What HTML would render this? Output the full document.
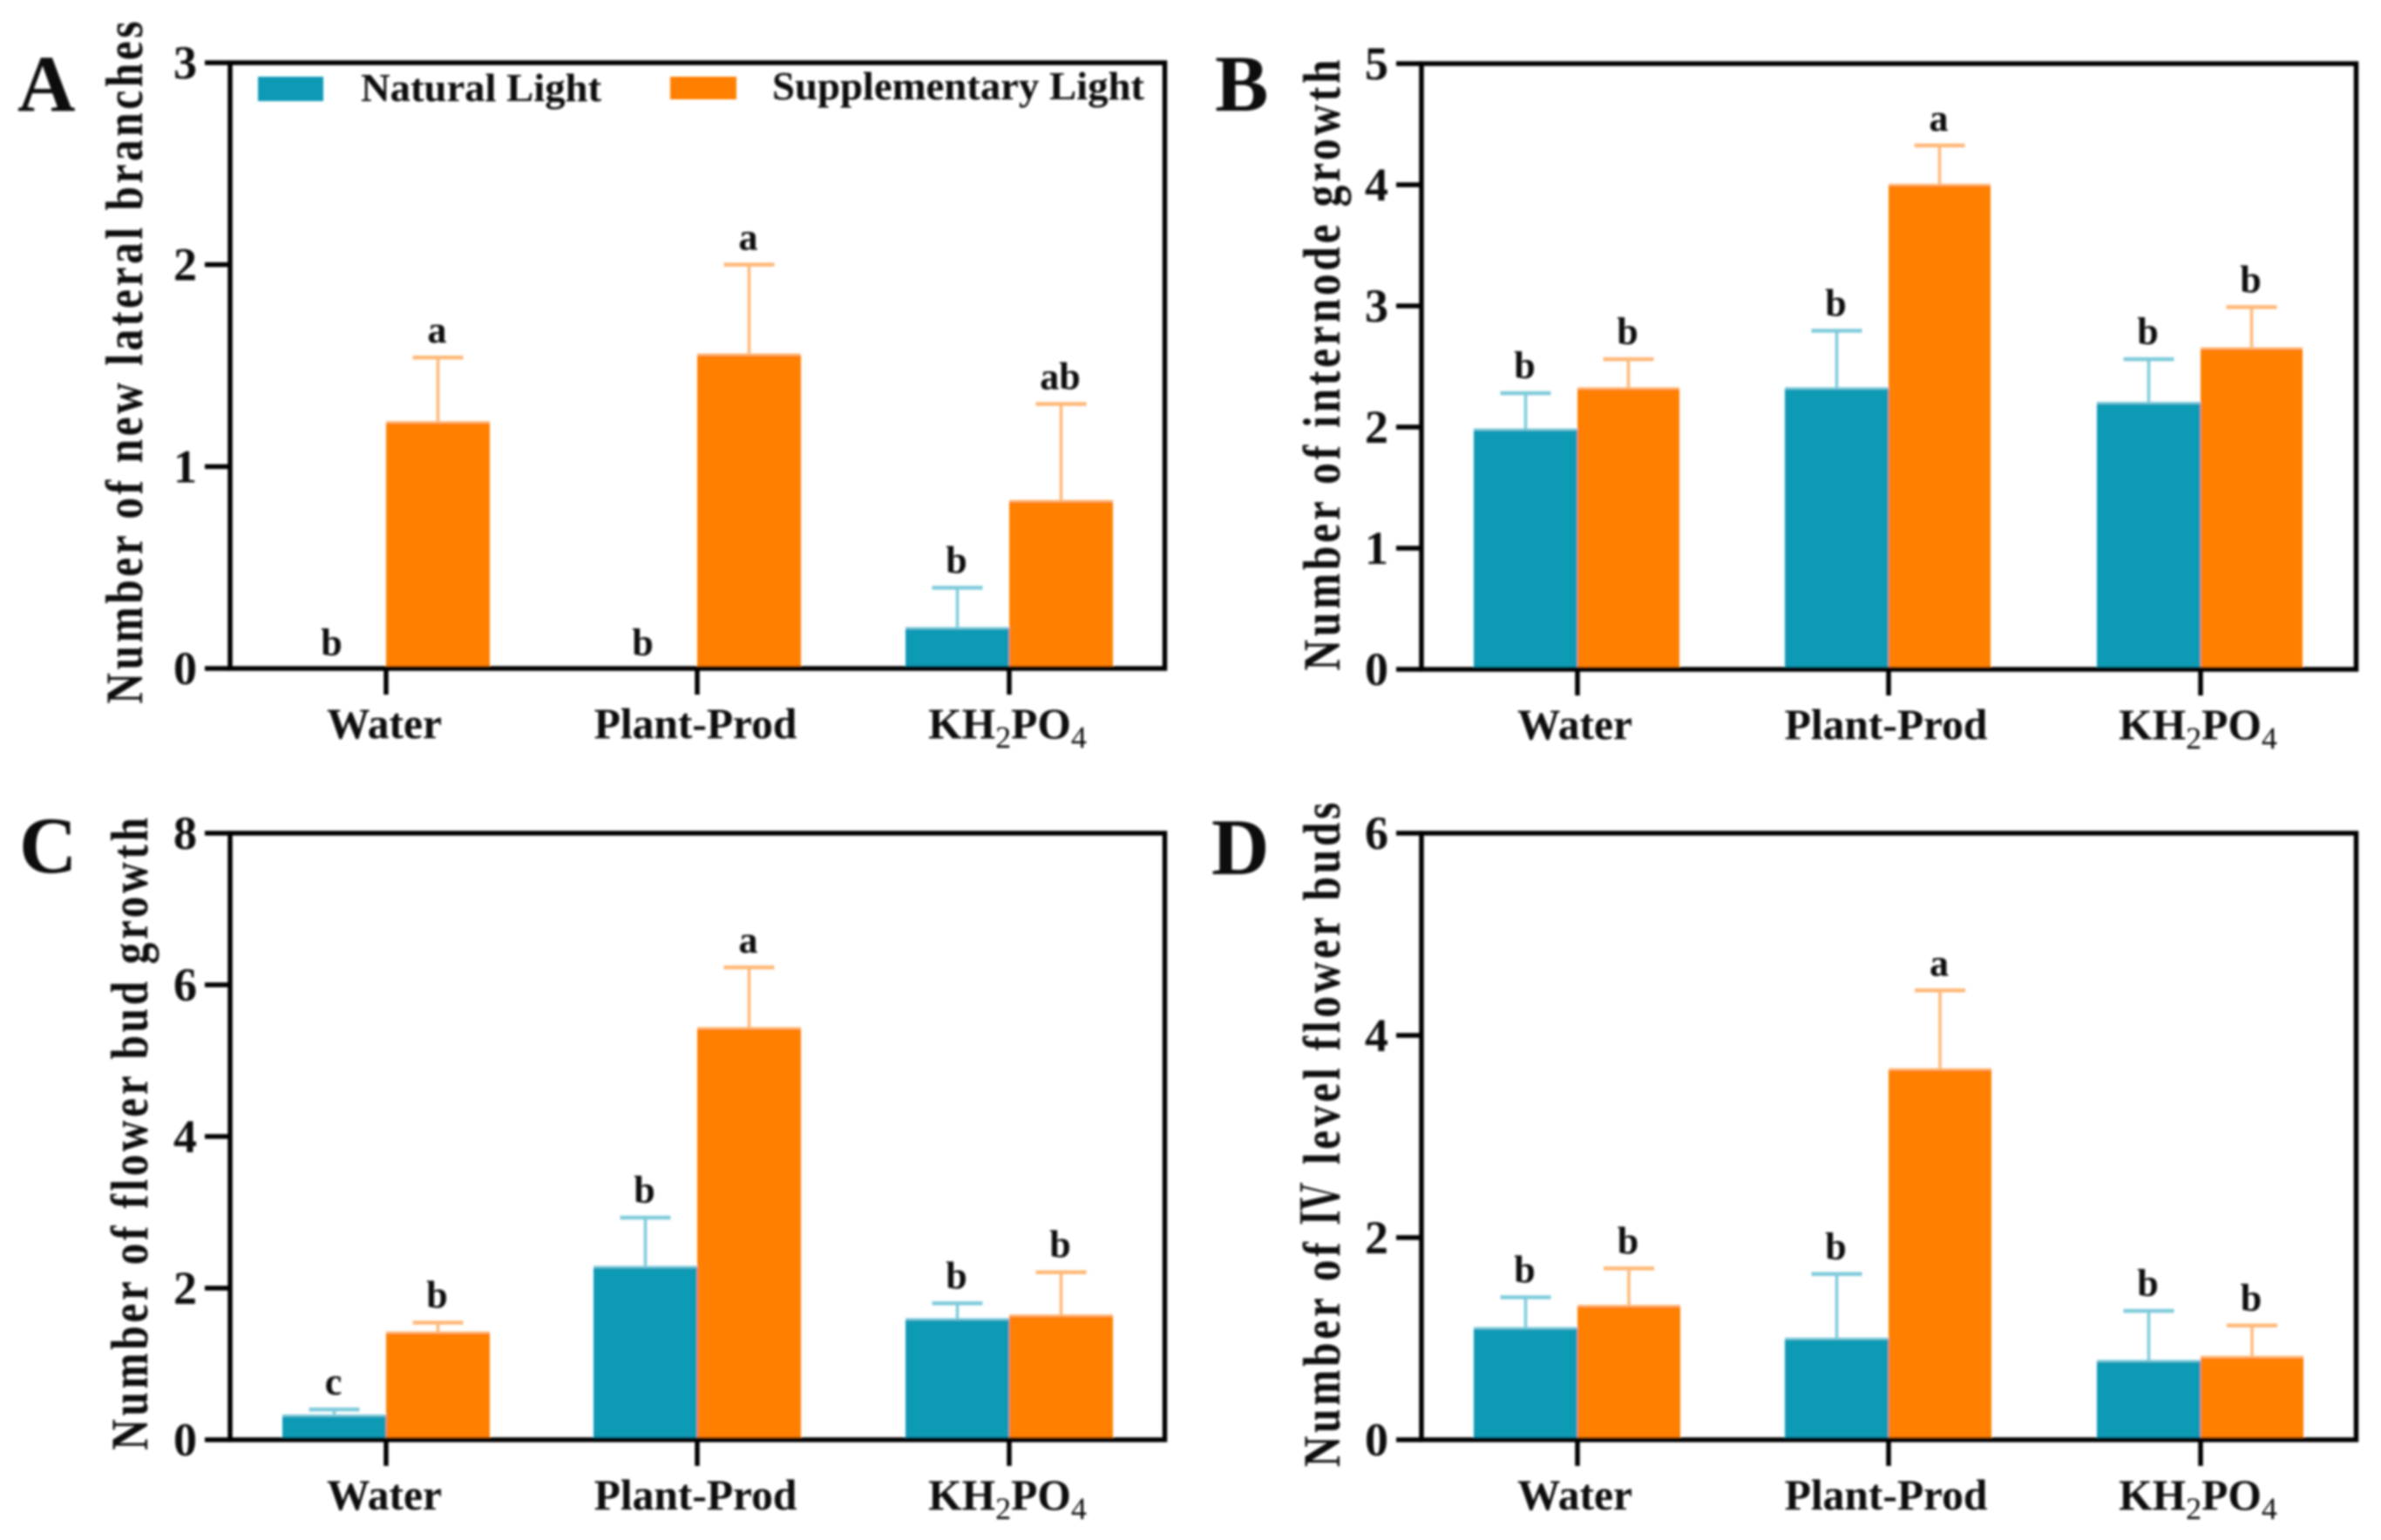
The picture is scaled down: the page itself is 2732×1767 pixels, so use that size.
<!DOCTYPE html>
<html lang="en">
<head>
<meta charset="utf-8">
<title>Four bar charts of plant growth under natural and supplementary light</title>
<style>
html,body{margin:0;padding:0;background:#fff;}
svg{display:block;}
text{font-family:"Liberation Serif","Noto Serif CJK SC",serif;font-weight:bold;fill:#0a0a0a;}
</style>
</head>
<body>
<svg id="figure" xmlns="http://www.w3.org/2000/svg" width="2732" height="1767" viewBox="0 0 2732 1767">
  <defs><filter id="soft" x="-2%" y="-2%" width="104%" height="104%"><feGaussianBlur stdDeviation="1.2"/></filter></defs>
  <rect width="2732" height="1767" fill="#fff"/>
  <g id="root" filter="url(#soft)">
    <g id="panel-a">
      <text x="20" y="127" font-size="92">A</text>
      <text transform="translate(163,416) rotate(-90) scale(0.82,1)" text-anchor="middle" font-size="60" textLength="955" lengthAdjust="spacing">Number of new lateral branches</text>
    </g>
    <g id="panel-b">
      <text x="1394" y="127" font-size="92">B</text>
      <text transform="translate(1537,419) rotate(-90) scale(0.82,1)" text-anchor="middle" font-size="60" textLength="855" lengthAdjust="spacing">Number of internode growth</text>
    </g>
    <g id="panel-c">
      <text x="22" y="1001" font-size="92">C</text>
      <text transform="translate(169,1301) rotate(-90) scale(0.82,1)" text-anchor="middle" font-size="60" textLength="885" lengthAdjust="spacing">Number of flower bud growth</text>
    </g>
    <g id="panel-d">
      <text x="1390" y="1003" font-size="92">D</text>
      <text transform="translate(1537,1302) rotate(-90) scale(0.82,1)" text-anchor="middle" font-size="60" textLength="930" lengthAdjust="spacing">Number of Ⅳ level flower buds</text>
    </g>
    <g id="legend">
      <g>
        <rect x="296" y="88" width="75" height="28" fill="#109ab5"/>
        <text x="414" y="116" font-size="46" textLength="276" lengthAdjust="spacingAndGlyphs">Natural Light</text>
      </g>
      <g>
        <rect x="769" y="88" width="76" height="26" fill="#ff7f00"/>
        <text x="886" y="114" font-size="46" textLength="427" lengthAdjust="spacingAndGlyphs">Supplementary Light</text>
      </g>
    </g>
  </g>
</svg>
<script>
const categories = ['Water', 'Plant-Prod', 'KH2PO4'];

const ticksA = [0, 1, 2, 3];
const naturalA = [0, 0, 0.2];
const naturalErrA = [0, 0, 0.2];
const naturalSigA = ['b', 'b', 'b'];
const supplementA = [1.22, 1.555, 0.83];
const supplementErrA = [0.32, 0.445, 0.48];
const supplementSigA = ['a', 'a', 'ab'];

const ticksB = [0, 1, 2, 3, 4, 5];
const naturalB = [1.98, 2.32, 2.2];
const naturalErrB = [0.3, 0.475, 0.36];
const naturalSigB = ['b', 'b', 'b'];
const supplementB = [2.32, 4.0, 2.65];
const supplementErrB = [0.24, 0.325, 0.34];
const supplementSigB = ['b', 'a', 'b'];

const ticksC = [0, 2, 4, 6, 8];
const naturalC = [0.32, 2.28, 1.59];
const naturalErrC = [0.08, 0.65, 0.21];
const naturalSigC = ['c', 'b', 'b'];
const supplementC = [1.415, 5.43, 1.64];
const supplementErrC = [0.13, 0.8, 0.57];
const supplementSigC = ['b', 'a', 'b'];

const ticksD = [0, 2, 4, 6];
const naturalD = [1.105, 1.0, 0.78];
const naturalErrD = [0.305, 0.64, 0.495];
const naturalSigD = ['b', 'b', 'b'];
const supplementD = [1.325, 3.665, 0.82];
const supplementErrD = [0.37, 0.78, 0.31];
const supplementSigD = ['b', 'a', 'b'];

const SVGNS = 'http://www.w3.org/2000/svg';
const TEAL = '#109ab5';
const TEAL_LIGHT = '#7fcbdb';
const ORANGE = '#ff7f00';
const ORANGE_LIGHT = '#ffb878';

function mk(parent, tag, attrs) {
  const el = document.createElementNS(SVGNS, tag);
  for (const k in attrs) el.setAttribute(k, attrs[k]);
  parent.appendChild(el);
  return el;
}

function drawSeries(g, xBand, yScale, values, errors, sigs, fill, light, side, barW) {
  values.forEach(function (v, i) {
    const cx = xBand(i);
    const left = side < 0 ? cx - barW : cx;
    const mid = left + barW / 2;
    const y0 = yScale(0);
    const yTop = yScale(v);
    const yCap = yScale(v + errors[i]);
    if (v > 0) {
      const stem = mk(g, 'line', { x1: mid, x2: mid, y1: yTop, y2: yCap, stroke: light, 'stroke-width': 3.5 });
      
      
      const cap = mk(g, 'line', { x1: mid - 29, x2: mid + 29, y1: yCap, y2: yCap, stroke: light, 'stroke-width': 4.5 });
      
      
      const bar = mk(g, 'rect', { x: left, y: yTop, width: barW, height: y0 - yTop, fill: fill });
      
      
      const edge = mk(g, 'line', { x1: left, x2: left + barW, y1: yTop, y2: yTop, stroke: light, 'stroke-width': 2.5 });
      
      
    }
    const sig = mk(g, 'text', { x: v > 0 ? mid - 1 : mid - 3, y: v > 0 ? yCap - 17 : yCap - 15, 'text-anchor': 'middle', 'font-size': 44 });
    
    
    sig.textContent = sigs[i];
  });
}

function drawPanel(id, box, ticks, nat, natErr, natSig, sup, supErr, supSig) {
  const g = document.getElementById(id);
  const maxTick = ticks[ticks.length - 1];
  const yScale = function (v) { return box.bottom - (v / maxTick) * (box.bottom - box.top); };
  const band = (box.right - box.left) / categories.length;
  const xBand = function (i) { return Math.round(box.left + (i + 0.5) * band); };

  drawSeries(g, xBand, yScale, nat, natErr, natSig, TEAL, TEAL_LIGHT, -1, 119);
  drawSeries(g, xBand, yScale, sup, supErr, supSig, ORANGE, ORANGE_LIGHT, 1, box.supWidth);

  const frame = mk(g, 'rect', { x: box.left, y: box.top, width: box.right - box.left, height: box.bottom - box.top, fill: 'none', stroke: '#000', 'stroke-width': 5.5 });
  
  

  ticks.forEach(function (t) {
    const y = yScale(t);
    const tick = mk(g, 'line', { x1: box.left - 29, x2: box.left, y1: y, y2: y, stroke: '#000', 'stroke-width': 5.5 });
    
    
    const label = mk(g, 'text', { x: box.left - 38, y: y + 18, 'text-anchor': 'end', 'font-size': 54 });
    
    
    label.textContent = t;
  });

  categories.forEach(function (c, i) {
    const x = xBand(i);
    const tick = mk(g, 'line', { x1: x, x2: x, y1: box.bottom, y2: box.bottom + 30, stroke: '#000', 'stroke-width': 5.5 });
    
    
    const label = mk(g, 'text', { x: x + box.labelShift, y: box.bottom + 80, 'text-anchor': 'middle', 'font-size': 49.5 });
    
    
    c.split(/(\d)/).filter(Boolean).forEach(function (part) {
      const isSub = /\d/.test(part);
      const sp = mk(label, 'tspan', isSub ? { dy: 11, 'font-size': 36, 'font-weight': 'normal' } : { dy: label.childNodes.length ? -11 : 0 });
      sp.textContent = part;
    });
  });
}

drawPanel('panel-a', { left: 264, right: 1336.5, top: 72, bottom: 767, supWidth: 119, labelShift: -2 }, ticksA, naturalA, naturalErrA, naturalSigA, supplementA, supplementErrA, supplementSigA);
drawPanel('panel-b', { left: 1631, right: 2703.5, top: 73, bottom: 768, supWidth: 117, labelShift: -3 }, ticksB, naturalB, naturalErrB, naturalSigB, supplementB, supplementErrB, supplementSigB);
drawPanel('panel-c', { left: 264, right: 1336.5, top: 956, bottom: 1652, supWidth: 119, labelShift: -2 }, ticksC, naturalC, naturalErrC, naturalSigC, supplementC, supplementErrC, supplementSigC);
drawPanel('panel-d', { left: 1631, right: 2703.5, top: 956, bottom: 1652, supWidth: 118, labelShift: -3 }, ticksD, naturalD, naturalErrD, naturalSigD, supplementD, supplementErrD, supplementSigD);
</script>
</body>
</html>
